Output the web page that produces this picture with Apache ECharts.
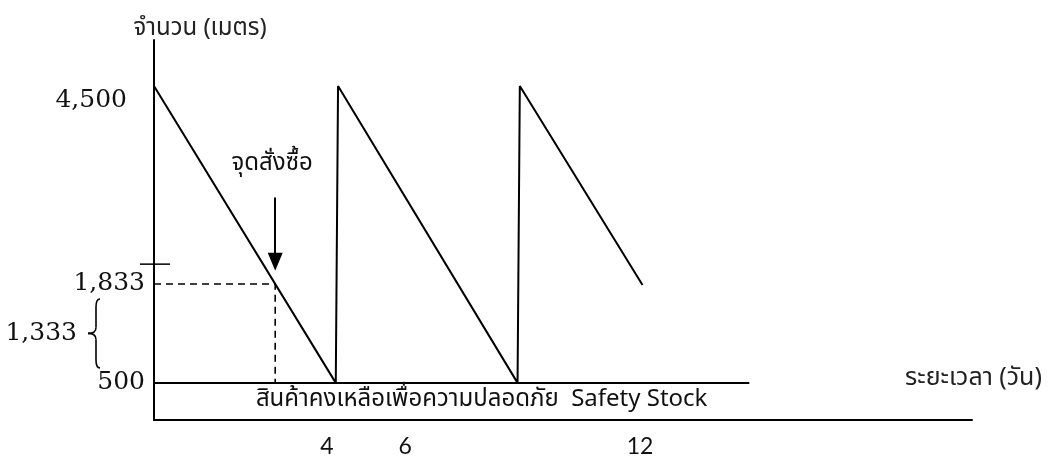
<!DOCTYPE html>
<html>
<head>
<meta charset="utf-8">
<script src="https://cdn.jsdelivr.net/npm/echarts@6/dist/echarts.min.js"></script>
<style>
html,body{margin:0;padding:0;background:#fff;}
#chart{width:1053px;height:458px;}
</style>
</head>
<body>
<div id="chart"></div>
<script>
// ---- data ----
const days = [0, 4.0, 4.05, 8.0, 8.05, 10.75];
const stock = [4500, 500, 4500, 500, 4500, 1820];
const safetyStock = 500;
const reorderPoint = 1833;
const leadUsage = '1,333';
const safetyEndDay = 13.1;
const yTickValues = [500, 1833, 4500];
const yTickLabels = ['500', '1,833', '4,500'];
const xTickValues = [4, 6, 12];
const strayTickValue = 2100;
const yAxisTitle = 'จำนวน (เมตร)';
const xAxisTitle = 'ระยะเวลา (วัน)';
const safetyText = 'สินค้าคงเหลือเพื่อความปลอดภัย  Safety Stock';
const reorderText = 'จุดสั่งซื้อ';

// reorder day: where first depletion segment reaches reorder point
const reorderDay = days[0] + (stock[0] - reorderPoint) / (stock[0] - stock[1]) * (days[1] - days[0]);

const sawData = days.map((d, i) => [d, stock[i]]);
const thaiFont = "'Noto Sans Thai','Loma','Tahoma','DejaVu Sans',sans-serif";

const chart = echarts.init(document.getElementById('chart'), null, {renderer: 'canvas'});
const blk = '#000';

const option = {
  backgroundColor: '#fff',
  animation: false,
  grid: {left: 154, right: 81, top: 40, bottom: 37, containLabel: false},
  xAxis: [
    {
      type: 'value', min: 0, max: 18, position: 'bottom',
      axisLine: {show: true, lineStyle: {color: blk, width: 2}},
      axisTick: {show: false}, axisLabel: {show: false}, splitLine: {show: false}
    },
    {
      type: 'value', min: -0.42, max: 20.48, position: 'bottom',
      axisLine: {show: false}, axisTick: {show: false}, splitLine: {show: false},
      axisLabel: {show: true, customValues: xTickValues, margin: 15, fontFamily: 'Lato, "Open Sans", sans-serif', fontSize: 23, color: '#111'}
    }
  ],
  yAxis: {
    type: 'value', min: 0, max: 5120,
    axisLine: {show: true, lineStyle: {color: blk, width: 2}},
    axisTick: {show: false}, splitLine: {show: false},
    axisLabel: {
      show: true, customValues: yTickValues, margin: 9,
      fontFamily: 'DejaVu Serif', fontSize: 25, color: '#111',
      formatter: function (v) {
        const i = yTickValues.indexOf(v);
        const s = yTickLabels[i];
        return v === 4500 ? '{hi|' + s + '}' : s;
      },
      rich: {hi: {fontFamily: 'DejaVu Serif', fontSize: 25, color: '#111', padding: [28, 18, 0, 0]}}
    },
    name: yAxisTitle, nameLocation: 'end', nameGap: -2,
    nameTextStyle: {fontFamily: thaiFont, fontSize: 24, color: '#222', align: 'center', padding: [0, 0, 0, 92]}
  },
  series: [
    {
      type: 'line', data: sawData, symbol: 'none', z: 5,
      lineStyle: {color: blk, width: 2},
      markLine: {
        silent: true, symbol: ['none', 'none'],
        lineStyle: {color: blk, width: 2, type: 'solid'},
        label: {
          show: true, position: 'insideMiddleBottom', distance: 6,
          formatter: safetyText, fontFamily: thaiFont, fontSize: 24, color: '#111',
          padding: [0, 0, 0, 60]
        },
        data: [[{coord: [0, safetyStock]}, {coord: [safetyEndDay, safetyStock]}]]
      }
    },
    {
      type: 'line', data: [[0, reorderPoint], [reorderDay, reorderPoint], [reorderDay, safetyStock]],
      symbol: 'none', z: 4,
      lineStyle: {color: blk, width: 1.6, type: [7, 5]},
      markLine: {
        silent: true, symbol: ['none', 'triangle'], symbolSize: [15, 18],
        lineStyle: {color: blk, width: 2, type: 'solid'},
        label: {
          show: true, position: 'start', distance: 20,
          formatter: reorderText, fontFamily: thaiFont, fontSize: 24, color: '#111',
          padding: [0, 6, 0, 0]
        },
        data: [[{coord: [reorderDay, reorderPoint + 1165]}, {coord: [reorderDay, reorderPoint + 300]}]]
      }
    }
  ]
};
chart.setOption(option);

// brace, lead-time usage label, stray axis tick and x-axis title, positioned through the axis scales
function drawExtras() {
  const yTop = chart.convertToPixel({yAxisIndex: 0}, reorderPoint) + 15;
  const yBot = chart.convertToPixel({yAxisIndex: 0}, safetyStock) - 15;
  const ySafe = chart.convertToPixel({yAxisIndex: 0}, safetyStock);
  const yStray = chart.convertToPixel({yAxisIndex: 0}, strayTickValue);
  const x0 = chart.convertToPixel({xAxisIndex: 0}, 0);
  const xEnd = chart.convertToPixel({xAxisIndex: 0}, 18);
  const xr = x0 - 54, xm = x0 - 58, xt = x0 - 66;
  const ym = (yTop + yBot) / 2;
  const st = {stroke: blk, fill: null, lineWidth: 1.6};
  chart.setOption({
    graphic: [
      {type: 'bezierCurve', shape: {x1: xr, y1: yTop, cpx1: xm, cpy1: yTop, x2: xm, y2: yTop + 8}, style: st},
      {type: 'line', shape: {x1: xm, y1: yTop + 8, x2: xm, y2: ym - 6}, style: st},
      {type: 'bezierCurve', shape: {x1: xm, y1: ym - 6, cpx1: xm, cpy1: ym, x2: xt, y2: ym}, style: st},
      {type: 'bezierCurve', shape: {x1: xt, y1: ym, cpx1: xm, cpy1: ym, x2: xm, y2: ym + 6}, style: st},
      {type: 'line', shape: {x1: xm, y1: ym + 6, x2: xm, y2: yBot - 8}, style: st},
      {type: 'bezierCurve', shape: {x1: xm, y1: yBot - 8, cpx1: xm, cpy1: yBot, x2: xr, y2: yBot}, style: st},
      {type: 'text', x: xt - 11, y: ym, style: {text: leadUsage, font: '25px "DejaVu Serif"', fill: '#111', textAlign: 'right', textVerticalAlign: 'middle'}},
      {type: 'line', shape: {x1: x0 - 14, y1: yStray, x2: x0 + 16, y2: yStray}, style: {stroke: blk, lineWidth: 1.5}},
      {type: 'text', x: xEnd - 67, y: ySafe - 3, style: {text: xAxisTitle, font: "25px 'Noto Sans Thai','Loma','Tahoma',sans-serif", fill: '#222', textAlign: 'left', textVerticalAlign: 'middle'}}
    ]
  });
}
drawExtras();
</script>
</body>
</html>
